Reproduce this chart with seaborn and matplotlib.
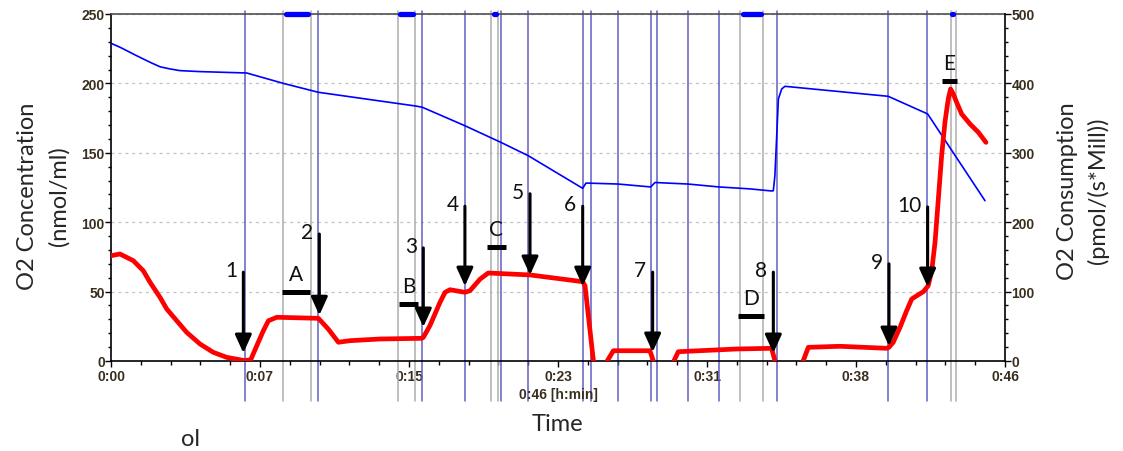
import numpy as np
import pandas as pd
import matplotlib
matplotlib.use('Agg')
import matplotlib.pyplot as plt
import seaborn as sns
from matplotlib.ticker import FixedLocator, MultipleLocator, AutoMinorLocator

# ---------------------------------------------------------------
# datos leídos del trazo (tiempo en minutos)
# ---------------------------------------------------------------
total_min = 46

o2_time = [0, 0.47, 0.81, 1.24, 1.66, 2.09, 2.52, 3.04, 3.55, 4.58, 6.98, 8.87, 10.67,
           13.5, 15.68, 16.02, 18.21, 20.05, 21.47, 24.27, 24.44, 26.09, 27.77, 27.99,
           29.69, 31.28, 32.88, 33.99, 34.08, 34.16, 34.34, 34.51, 34.68, 39.99, 42.02,
           44.97]
o2_conc = [228.9, 226, 223.6, 220.5, 217.6, 214.7, 212, 210.4, 209.2, 208.5, 207.5, 200,
           193.6, 188, 183.7, 182.8, 169.5, 157.6, 147.9, 124.4, 128.2, 127.5, 125.4,
           128.6, 127.5, 125.4, 124, 122.5, 122.7, 133.5, 188.8, 196, 197.9, 190.7, 178,
           115.5]

nan = np.nan
flux_time = [0, 0.46, 1.15, 1.66, 2.01, 2.52, 2.87, 3.38, 3.89, 4.58, 5.26, 5.95, 6.89,
             7.19, 7.5, 7.84, 8.1, 8.53, 10.67, 11.18, 11.7, 12.3, 13.84, 15.99, 16.07,
             16.41, 16.93, 17.19, 17.44, 18.21, 18.47, 18.99, 19.41, 21.56, 24.27, 24.39,
             24.82, nan,
             25.54, 25.85, 27.73, 27.9, nan,
             28.97, 29.19, 32.19, 33.99, 34.16, nan,
             35.62, 35.88, 37.5, 39.91, 40.03, 40.25, 40.6, 40.94, 41.2, 41.46, 41.8,
             42.05, 42.23, 42.4, 42.57, 42.74, 42.91, 43.08, 43.2, 43.34, 43.51, 43.77,
             44.2, 44.63, 45.02]
flux_rate = [151.7, 154.2, 144.5, 130.1, 113.4, 91.8, 74.9, 58.1, 41.4, 24.5, 12.5, 5.3,
             0.5, 1.9, 22, 43.7, 58, 63, 61.5, 46, 27, 29.3, 31.7, 32.7, 34,
             51, 84.6, 99, 102.7, 99, 101.3, 118, 126.8, 124, 114.3, 108.5,
             0.5, nan,
             0.5, 14.8, 14.8, 0.5, nan,
             0.5, 13.4, 17.3, 18.3, 0.5, nan,
             0.5, 19.7, 21.2, 18.3, 19.7, 27, 48.6, 72.5, 89.3, 94, 99.9,
             108.5, 130.1, 171, 233.4, 295.8, 344, 377.5, 392, 384.7, 372.8, 355.9,
             341.5, 329.5, 315]

# marcas de eventos
blue_events = [6.89, 10.64, 16.02, 18.21, 20.05, 21.47, 24.27, 24.70, 26.10, 27.77,
               28.08, 29.67, 31.30, 34.28, 39.99, 42.0]
grey_events = [8.87, 10.28, 14.75, 15.64, 19.55, 19.91, 32.37, 33.57, 43.20, 43.46]
mark_start = [9.03, 14.88, 19.72, 32.50, 43.29]
mark_end = [10.16, 15.55, 19.80, 33.44, 43.35]

# flechas de titulación (unidades del eje derecho)
arrow_labels = ['1', '2', '3', '4', '5', '6', '7', '8', '9', '10']
arrow_time = [6.81, 10.72, 16.07, 18.21, 21.56, 24.27, 27.87, 34.08, 40.03, 42.02]
arrow_top = [128, 183, 163, 223, 241, 223, 128, 128, 140, 222]
arrow_tip = [11.5, 66, 49, 108, 124, 108, 13, 11.5, 21.6, 106.6]

# estados marcados A-E
state_labels = ['A', 'B', 'C', 'D', 'E']
state_start = [8.80, 14.82, 19.35, 32.26, 42.76]
state_end = [10.24, 15.80, 20.32, 33.60, 43.53]
state_level = [99.4, 82.1, 164.3, 64.8, 403.5]

xtick_labels = ['0:00', '0:07', '0:15', '0:23', '0:31', '0:38', '0:46']

# ---------------------------------------------------------------
sns.set_theme(style='white')
plt.rcParams['font.family'] = ['Lato', 'DejaVu Sans']

TICK_COLOR = '#3a2f1f'
tick_font = dict(family='Liberation Sans', weight='bold', size=10)

df_o2 = pd.DataFrame({'time': o2_time, 'conc': o2_conc})
df_flux = pd.DataFrame({'time': flux_time, 'rate': flux_rate})
df_flux['seg'] = df_flux['rate'].isna().cumsum()
df_flux = df_flux.dropna()

fig = plt.figure(figsize=(11.23, 4.52), dpi=100)
ax = fig.add_axes([111 / 1123, 90 / 452, 894 / 1123, 347 / 452])
ax2 = ax.twinx()

# líneas verticales de eventos
for t in grey_events:
    ax.axvline(t, ymin=-0.115, ymax=1.008, color='#b4b4b4', lw=1.2, clip_on=False, zorder=1)
for t in blue_events:
    ax.axvline(t, ymin=-0.115, ymax=1.008, color='#5f5fc4', lw=1.1, clip_on=False, zorder=1)

sns.lineplot(data=df_o2, x='time', y='conc', ax=ax, color='#0000ff', lw=1.2,
             estimator=None, sort=False, zorder=3)
sns.lineplot(data=df_flux, x='time', y='rate', units='seg', estimator=None, ax=ax2,
             color='#ff0000', lw=3.4, sort=False, legend=False, zorder=3)

ax.set_xlim(0, total_min)
ax.set_ylim(0, 250)
ax2.set_ylim(0, 500)

# ejes
xt = np.linspace(0, total_min, len(xtick_labels))
ax.xaxis.set_major_locator(FixedLocator(xt))
ax.set_xticklabels(xtick_labels)
ax.xaxis.set_minor_locator(AutoMinorLocator(5))
ax.yaxis.set_major_locator(MultipleLocator(50))
ax.yaxis.set_minor_locator(MultipleLocator(10))
ax2.yaxis.set_major_locator(MultipleLocator(100))
ax2.yaxis.set_minor_locator(MultipleLocator(20))

ax.tick_params(axis='x', which='major', length=4, width=1, color='black', pad=2,
               bottom=True, labelcolor=TICK_COLOR)
ax.tick_params(axis='x', which='minor', length=3, width=1, color='black', bottom=True)
ax.tick_params(axis='y', which='major', length=4, width=1, color='black', pad=0.5,
               left=True, labelcolor=TICK_COLOR)
ax.tick_params(axis='y', which='minor', length=2.5, width=1, color='black', left=True)
ax2.tick_params(axis='y', which='major', length=4, width=1, color='black', pad=0.5,
                right=True, labelcolor=TICK_COLOR)
ax2.tick_params(axis='y', which='minor', length=2.5, width=1, color='black', right=True)
for lab in ax.get_xticklabels() + ax.get_yticklabels() + ax2.get_yticklabels():
    lab.set_fontproperties(tick_font)

ax.yaxis.grid(True, linestyle=(0, (2.5, 3)), color='#c4c4c4', lw=0.9)
ax.xaxis.grid(False)
ax2.grid(False)

for side in ['left', 'bottom']:
    ax.spines[side].set_color('black')
    ax.spines[side].set_linewidth(1.2)
ax.spines['top'].set_color('#505050')
ax.spines['top'].set_linewidth(1.2)
ax.spines['right'].set_visible(False)
for side in ['left', 'bottom', 'top']:
    ax2.spines[side].set_visible(False)
ax2.spines['right'].set_color('black')
ax2.spines['right'].set_linewidth(1.2)

# marcas azules sobre el borde superior
ax2.hlines([500] * len(mark_start), mark_start, mark_end, color='#0000ff', lw=3.8,
           capstyle='round', clip_on=False, zorder=6)

# flechas
for lab, t, top, tip in zip(arrow_labels, arrow_time, arrow_top, arrow_tip):
    ax2.annotate('', xy=(t, tip), xytext=(t, top),
                 arrowprops=dict(arrowstyle='-|>,head_length=0.55,head_width=0.25',
                                 color='black', lw=2.2, shrinkA=0, shrinkB=0,
                                 mutation_scale=20), zorder=5)
    ax2.annotate(lab, xy=(t, top), xytext=(-4.5, 1.5), textcoords='offset points',
                 ha='right', va='center', fontsize=15, color='#111111', zorder=5)

# estados A-E
ax2.hlines(state_level, state_start, state_end, color='black', lw=3.6, zorder=5)
for lab, s, e, lv in zip(state_labels, state_start, state_end, state_level):
    ax2.annotate(lab, xy=((s + e) / 2, lv), xytext=(0, 13), textcoords='offset points',
                 ha='center', va='center', fontsize=15, color='#111111', zorder=5)

# rótulos
ax.set_xlabel('Time', fontsize=17, va='center')
ax.xaxis.set_label_coords(0.499, -0.18)
ax.set_ylabel('O2 Concentration\n(nmol/ml)', fontsize=17, linespacing=1.6)
ax.yaxis.set_label_coords(-0.046, 0.478)
ax2.set_ylabel('O2 Consumption\n(pmol/(s*Mill))', fontsize=17, linespacing=1.5)
ax2.yaxis.set_label_coords(1.058, 0.493)

ax.text(0.5, -0.095, '0:46 [h:min]', transform=ax.transAxes, ha='center', va='center',
        color=TICK_COLOR, **tick_font)
fig.text(190 / 1123, 1 - 440 / 452, 'ol', fontsize=17, ha='center', va='center')

fig.savefig('out.png', dpi=100)
